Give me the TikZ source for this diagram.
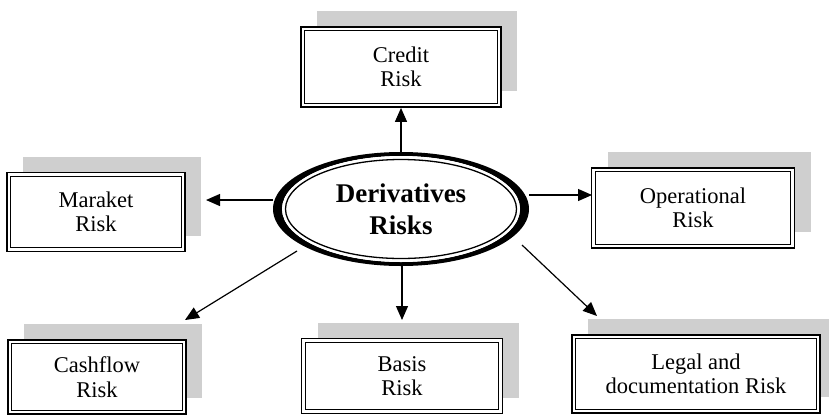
\documentclass[tikz,border=0pt]{standalone}
\usepackage{fontspec}
\setmainfont{Liberation Serif}
\usetikzlibrary{arrows.meta,shapes.geometric,shadows}
\begin{document}
\begin{tikzpicture}[x=1pt,y=-1pt,
  riskbox/.style={draw, line width=1.8pt, fill=white, align=center, inner sep=0pt,
    font=\fontsize{22.5}{24.5}\selectfont,
    drop shadow={shadow xshift=16pt, shadow yshift=16pt, fill=gray!38, opacity=1},
    path picture={\draw[line width=0.9pt]
      ([shift={(3.6pt,3.6pt)}]path picture bounding box.south west) rectangle
      ([shift={(-3.6pt,-3.6pt)}]path picture bounding box.north east);}},
  conn/.style={line width=1.2pt, -{Triangle[length=14pt,width=12pt]}}]
\useasboundingbox (0,0) rectangle (829,418);
\fill[white] (0,0) rectangle (829,418);

\node[riskbox, minimum width=200pt, minimum height=80pt] (credit) at (401,67) {Credit\\Risk};
\node[riskbox, minimum width=178pt, minimum height=79pt] (market) at (96,212) {Maraket\\Risk};
\node[riskbox, minimum width=203pt, minimum height=80pt] (oper) at (693,208) {Operational\\Risk};
\node[riskbox, minimum width=178pt, minimum height=74pt] (cash) at (97,377) {Cashflow\\Risk};
\node[riskbox, minimum width=201pt, minimum height=75pt] (basis) at (402,376) {Basis\\Risk};
\node[riskbox, minimum width=248pt, minimum height=78pt] (legal) at (696,374) {Legal and\\documentation Risk};

% central ellipse: thick outer band, thin inner line
\fill[black, even odd rule] (401,209) ellipse [x radius=128pt, y radius=57pt]
                            (401,209) ellipse [x radius=119pt, y radius=53pt];
\fill[white] (401,209) ellipse [x radius=119pt, y radius=53pt];
\draw[line width=1.3pt] (401,209) ellipse [x radius=115.5pt, y radius=49.5pt];
\node[ellipse, minimum width=256pt, minimum height=114pt, inner sep=0pt, align=center,
  font=\bfseries\fontsize{27}{32}\selectfont] (ell) at (401,209) {Derivatives\\Risks};

\coordinate (mS) at (273,200);
\coordinate (mE) at (206,200);
\coordinate (oS) at (529,195);
\coordinate (oE) at (592,195);
\coordinate (cS) at (297,251);
\coordinate (cE) at (185,320);
\coordinate (lS) at (522,245);
\coordinate (lE) at (597,316);
\coordinate (bE) at (402,320);

\draw[conn] (ell.north) -- (credit.south);
\draw[conn] (mS) -- (mE);
\draw[conn] (oS) -- (oE);
\draw[conn] (ell.south -| bE) -- (bE);
\draw[conn] (cS) -- (cE);
\draw[conn] (lS) -- (lE);
\end{tikzpicture}
\end{document}
